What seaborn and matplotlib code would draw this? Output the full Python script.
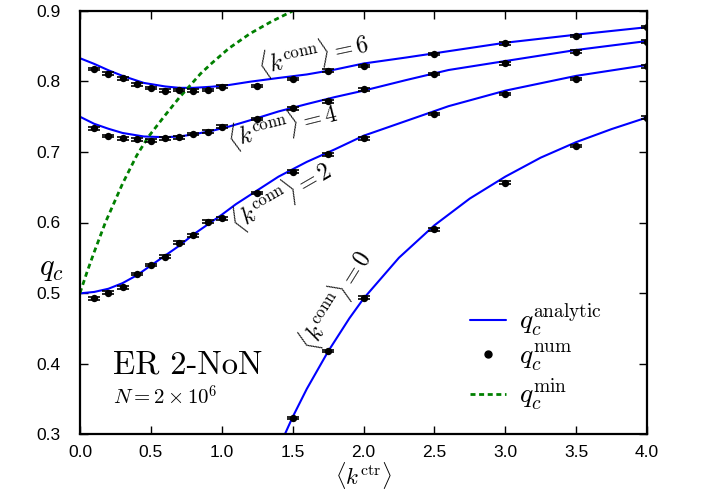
import numpy as np
import pandas as pd
import matplotlib
matplotlib.use("Agg")
import matplotlib.pyplot as plt
from matplotlib.lines import Line2D
import seaborn as sns

# ---------------- data ----------------
x_num = [0.1, 0.2, 0.3, 0.4, 0.5, 0.6, 0.7, 0.8, 0.9, 1.0,
         1.25, 1.5, 1.75, 2.0, 2.5, 3.0, 3.5, 4.0]
q_num_k6 = [0.818, 0.811, 0.8045, 0.796, 0.791, 0.787, 0.788, 0.787, 0.788, 0.7926,
            0.7936, 0.8035, 0.8153, 0.8222, 0.8388, 0.854, 0.8645, 0.877]
q_num_k4 = [0.7336, 0.7227, 0.7194, 0.718, 0.716, 0.7194, 0.7208, 0.7255, 0.7288, 0.7359,
            0.7466, 0.762, 0.7718, 0.789, 0.8106, 0.8258, 0.8423, 0.8565]
q_num_k2 = [0.4925, 0.5004, 0.508, 0.527, 0.5397, 0.5515, 0.5714, 0.5818, 0.6011, 0.606,
            0.6418, 0.672, 0.6967, 0.7194, 0.754, 0.7823, 0.8035, 0.8216]
x_num_k0 = [1.5, 1.75, 2.0, 2.5, 3.0, 3.5, 4.0]
q_num_k0 = [0.323, 0.4177, 0.4933, 0.5903, 0.6565, 0.7085, 0.7487]

x_an_k6 = [0.0, 0.1, 0.2, 0.3, 0.45, 0.6, 0.7, 0.8, 0.93, 1.05, 1.2, 1.4, 1.6, 1.8, 2.0,
           2.3, 2.6, 3.0, 3.5, 4.0]
q_an_k6 = [0.833, 0.825, 0.816, 0.808, 0.798, 0.793, 0.791, 0.791, 0.7926, 0.795, 0.7997,
           0.805, 0.810, 0.817, 0.8255, 0.834, 0.843, 0.855, 0.8664, 0.877]
x_an_k4 = [0.0, 0.1, 0.2, 0.3, 0.45, 0.6, 0.7, 0.8, 0.93, 1.05, 1.2, 1.4, 1.6, 1.8, 2.0,
           2.3, 2.6, 3.0, 3.5, 4.0]
q_an_k4 = [0.750, 0.740, 0.733, 0.727, 0.722, 0.721, 0.722, 0.725, 0.730, 0.736, 0.745,
           0.7575, 0.768, 0.778, 0.787, 0.802, 0.8163, 0.829, 0.8447, 0.8574]
x_an_k2 = [0.0, 0.1, 0.2, 0.3, 0.4, 0.5, 0.6, 0.7, 0.8, 0.9, 1.0, 1.1, 1.2, 1.4, 1.6, 1.8,
           2.0, 2.3, 2.6, 3.0, 3.5, 4.0]
q_an_k2 = [0.4995, 0.5015, 0.506, 0.514, 0.525, 0.539, 0.553, 0.567, 0.583, 0.597, 0.611,
           0.626, 0.639, 0.665, 0.686, 0.704, 0.723, 0.744, 0.765, 0.787, 0.808, 0.8234]
x_an_k0 = [1.446, 1.5, 1.6, 1.75, 1.9, 2.0, 2.25, 2.5, 2.75, 3.0, 3.25, 3.5, 3.75, 4.0]
q_an_k0 = [0.300, 0.324, 0.364, 0.417, 0.464, 0.492, 0.550, 0.596, 0.634, 0.665, 0.692,
           0.714, 0.7325, 0.749]

x_min = [0.0, 0.02, 0.05, 0.1, 0.179, 0.3, 0.4, 0.48, 0.6, 0.7, 0.762, 0.85, 0.93, 1.05,
         1.2, 1.35, 1.5]
q_min = [0.5, 0.512, 0.53, 0.558, 0.6, 0.655, 0.695, 0.721, 0.752, 0.777, 0.791, 0.811,
         0.826, 0.847, 0.868, 0.885, 0.9]

err = 0.0018

# ---------------- style ----------------
sns.set_style("ticks")
plt.rcParams.update({
    "font.family": ["Liberation Sans Narrow", "Liberation Sans", "DejaVu Sans"],
    "mathtext.fontset": "cm",
    "text.color": "black", "axes.labelcolor": "black",
    "xtick.direction": "in", "ytick.direction": "in",
    "xtick.top": True, "ytick.right": True,
    "xtick.major.size": 6, "ytick.major.size": 6,
    "xtick.major.width": 1.0, "ytick.major.width": 1.0,
    "xtick.color": "black", "ytick.color": "black",
    "axes.edgecolor": "black", "axes.linewidth": 1.6,
    "xtick.labelsize": 12.5, "ytick.labelsize": 12.5,
})

fig = plt.figure(figsize=(7.04, 4.95), dpi=100)
ax = fig.add_axes([80 / 704, 61 / 495, 567 / 704, 423 / 495])

blue = (0, 0, 1)
green = (0, 0.5, 0)
dash = [1.8, 1.3]

an = pd.concat([
    pd.DataFrame({"x": x_an_k6, "q": q_an_k6, "k": 6}),
    pd.DataFrame({"x": x_an_k4, "q": q_an_k4, "k": 4}),
    pd.DataFrame({"x": x_an_k2, "q": q_an_k2, "k": 2}),
    pd.DataFrame({"x": x_an_k0, "q": q_an_k0, "k": 0}),
])
sns.lineplot(data=an, x="x", y="q", units="k", estimator=None, color=blue,
             lw=1.5, ax=ax, legend=False)

num = pd.concat([
    pd.DataFrame({"x": x_num, "q": q_num_k6, "k": 6}),
    pd.DataFrame({"x": x_num, "q": q_num_k4, "k": 4}),
    pd.DataFrame({"x": x_num, "q": q_num_k2, "k": 2}),
    pd.DataFrame({"x": x_num_k0, "q": q_num_k0, "k": 0}),
])
ax.errorbar(num["x"], num["q"], yerr=err, fmt="none", ecolor="black",
            elinewidth=1.0, capsize=4, capthick=1.2, zorder=3)
sns.scatterplot(data=num, x="x", y="q", color="black", s=28, edgecolor="black",
                linewidth=0, ax=ax, zorder=4, legend=False)

mn = pd.DataFrame({"x": x_min, "q": q_min})
sns.lineplot(data=mn, x="x", y="q", color=green, lw=2.0, ax=ax, legend=False)
ax.lines[-1].set_dashes(dash)

ax.set_xlim(0, 4)
ax.set_ylim(0.3, 0.9)
ax.set_xticks(np.arange(0, 4.01, 0.5))
ax.set_yticks(np.arange(0.3, 0.901, 0.1))
ax.set_xticklabels([f"{v:.1f}" for v in np.arange(0, 4.01, 0.5)])
ax.set_yticklabels([f"{v:.1f}" for v in np.arange(0.3, 0.901, 0.1)])
ax.tick_params(axis="x", pad=8)
ax.tick_params(axis="y", pad=14)
for s in ax.spines.values():
    s.set_visible(True)

ax.set_xlabel(r"$\langle k^{\mathrm{ctr}}\rangle$", fontsize=16.5)
ax.xaxis.set_label_coords(0.5, -0.062)
ax.set_ylabel(r"$q_c$", fontsize=22, rotation=0, va="center", ha="center")
ax.yaxis.set_label_coords(-0.05, 0.392)

lab_kw = dict(fontsize=17, ha="center", va="center", rotation_mode="anchor")
ax.text(1.65, 0.8376, r"$\langle k^{\mathrm{conn}}\rangle = 6$", rotation=12, **lab_kw)
ax.text(1.432, 0.737, r"$\langle k^{\mathrm{conn}}\rangle = 4$", rotation=14, **lab_kw)
ax.text(1.418, 0.6376, r"$\langle k^{\mathrm{conn}}\rangle = 2$", rotation=30, **lab_kw)
ax.text(1.80, 0.49, r"$\langle k^{\mathrm{conn}}\rangle = 0$", rotation=58, **lab_kw)

ax.text(0.058, 0.142, "ER 2-NoN", transform=ax.transAxes, fontsize=23.5,
        family="cmr10", va="baseline", ha="left")
ax.text(0.058, 0.0686, r"$N = 2\times 10^6$", transform=ax.transAxes, fontsize=15,
        va="baseline", ha="left")

handles = [
    Line2D([], [], color=blue, lw=1.5),
    Line2D([], [], color="black", marker="o", markersize=5, ls="none"),
    Line2D([], [], color=green, lw=2.0, dashes=dash),
]
labels = [r"$q_c^{\mathrm{analytic}}$", r"$q_c^{\mathrm{num}}$", r"$q_c^{\mathrm{min}}$"]
ax.legend(handles, labels, loc="upper left", bbox_to_anchor=(0.688, 0.312),
          frameon=False, fontsize=20, handlelength=1.3, handletextpad=0.45,
          labelspacing=0.12, borderpad=0, borderaxespad=0)

fig.savefig("out.png", dpi=100)
